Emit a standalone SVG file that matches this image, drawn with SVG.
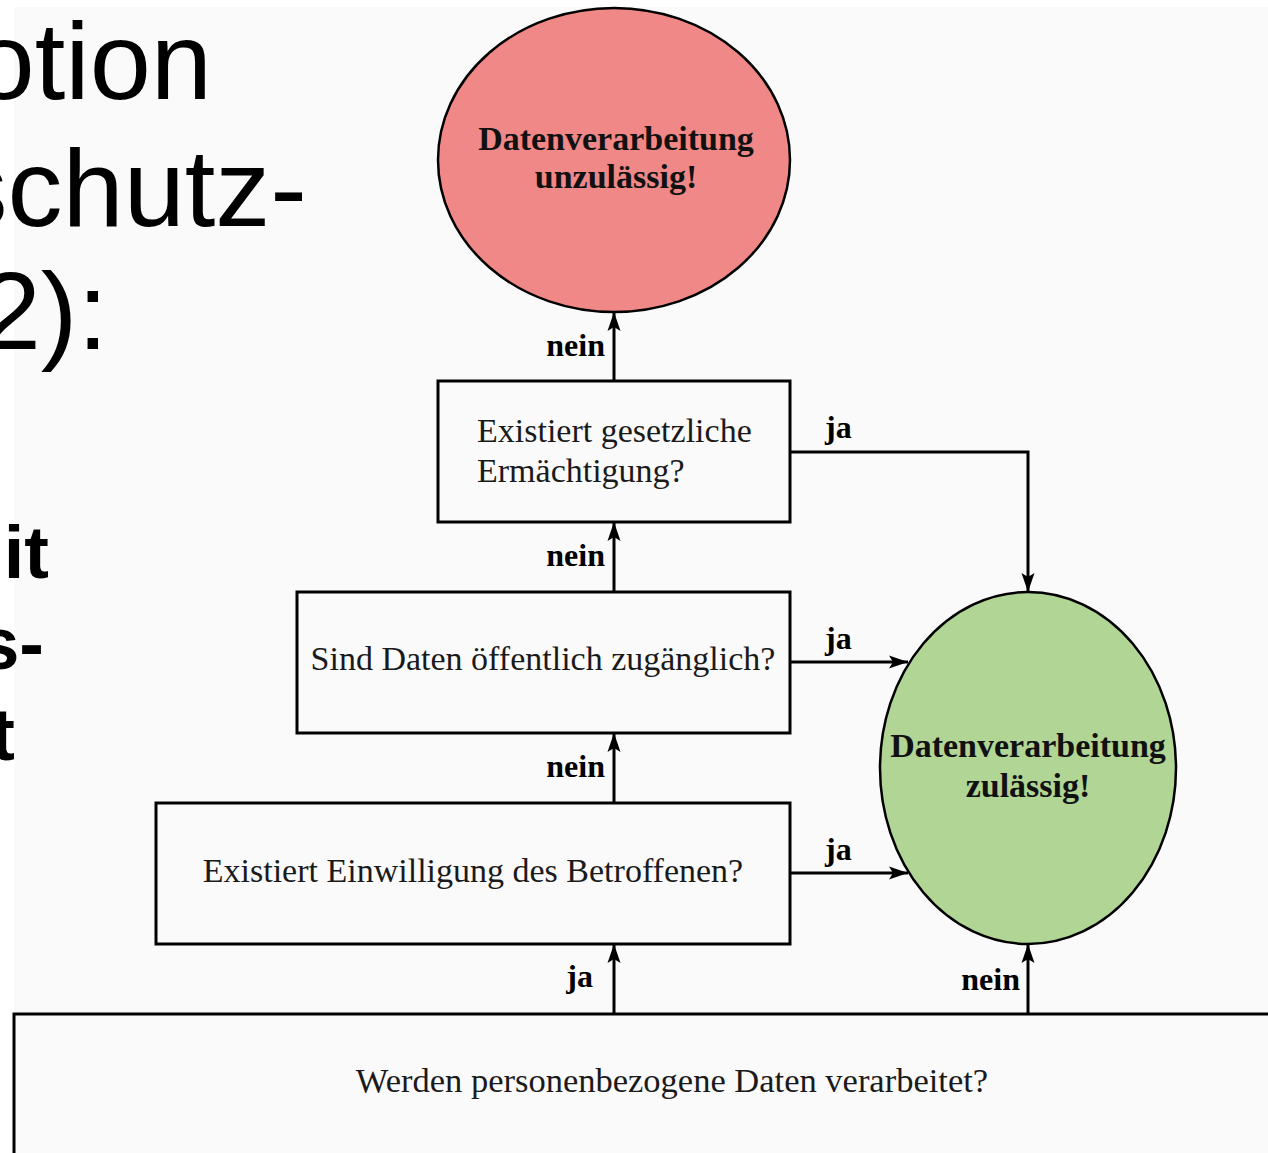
<svg xmlns="http://www.w3.org/2000/svg" width="1268" height="1153" viewBox="0 0 1268 1153">
<style>
.slide{font-family:"Liberation Sans",Arial,sans-serif;fill:#000}
.big{font-size:110px}
.bold{font-size:74px;font-weight:bold}
.box{fill:none;stroke:#000;stroke-width:3}
.q{font-family:"Liberation Serif","Times New Roman",serif;font-size:34px;fill:#1a1a1a}
.qb{font-size:34.5px}
.lbl{font-family:"Liberation Serif","Times New Roman",serif;font-size:32px;font-weight:bold;fill:#000}
.res{font-family:"Liberation Serif","Times New Roman",serif;font-size:34px;font-weight:bold;fill:#111;text-anchor:middle}
.con{fill:none;stroke:#000;stroke-width:3}
.arr{marker-end:url(#ah)}
</style>
<defs>
<marker id="ah" markerUnits="userSpaceOnUse" markerWidth="20" markerHeight="16" refX="19" refY="8" orient="auto">
<path d="M0,1.5 L19,8 L0,14.5 L4,8 z" fill="#000"/>
</marker>
</defs>
<rect x="0" y="0" width="1268" height="1153" fill="#ffffff"/>
<rect x="14" y="7" width="1254" height="1146" fill="#fafafa"/>

<g id="slide-text">
<text class="slide big" x="212" y="99" text-anchor="end">otion</text>
<text class="slide big" x="307" y="226" text-anchor="end">schutz-</text>
<text class="slide big" x="108" y="349" text-anchor="end">2):</text>
<text class="slide bold" x="49" y="578" text-anchor="end">it</text>
<text class="slide bold" x="44" y="669" text-anchor="end">s-</text>
<text class="slide bold" x="15" y="760" text-anchor="end">t</text>
</g>

<g id="node-unzulaessig">
<ellipse cx="614" cy="160" rx="176" ry="152" fill="#ef8886" stroke="#000" stroke-width="2.5"/>
<text class="res" x="616" y="150">Datenverarbeitung</text>
<text class="res" x="616" y="188">unzulässig!</text>
</g>

<g id="node-zulaessig">
<ellipse cx="1028" cy="768" rx="148" ry="176" fill="#b0d594" stroke="#000" stroke-width="2.5"/>
<text class="res" x="1028" y="757">Datenverarbeitung</text>
<text class="res" x="1028" y="797">zulässig!</text>
</g>

<g id="node-ermaechtigung">
<rect class="box" x="438" y="381" width="352" height="141"/>
<text class="q" x="477" y="442">Existiert gesetzliche</text>
<text class="q" x="477" y="482">Ermächtigung?</text>
</g>

<g id="node-oeffentlich">
<rect class="box" x="297" y="592" width="493" height="141"/>
<text class="q" x="543" y="670" text-anchor="middle">Sind Daten öffentlich zugänglich?</text>
</g>

<g id="node-einwilligung">
<rect class="box" x="156" y="803" width="634" height="141"/>
<text class="q" x="473" y="882" text-anchor="middle">Existiert Einwilligung des Betroffenen?</text>
</g>

<g id="node-personenbezogen">
<rect class="box" x="14" y="1014" width="1300" height="200"/>
<text class="q qb" x="672" y="1092" text-anchor="middle">Werden personenbezogene Daten verarbeitet?</text>
</g>

<g id="connectors">
<path class="con arr" d="M614,1014 V944"/>
<path class="con arr" d="M1028,1014 V944"/>
<path class="con arr" d="M614,803 V733"/>
<path class="con arr" d="M614,592 V522"/>
<path class="con arr" d="M614,381 V312"/>
<path class="con arr" d="M790,452 H1028 V592"/>
<path class="con arr" d="M790,662 H908"/>
<path class="con arr" d="M790,873 H908"/>
<text class="lbl" x="605" y="356" text-anchor="end">nein</text>
<text class="lbl" x="605" y="566" text-anchor="end">nein</text>
<text class="lbl" x="605" y="777" text-anchor="end">nein</text>
<text class="lbl" x="593" y="987" text-anchor="end">ja</text>
<text class="lbl" x="1020" y="990" text-anchor="end">nein</text>
<text class="lbl" x="825" y="438">ja</text>
<text class="lbl" x="825" y="649">ja</text>
<text class="lbl" x="825" y="860">ja</text>
</g>
</svg>
